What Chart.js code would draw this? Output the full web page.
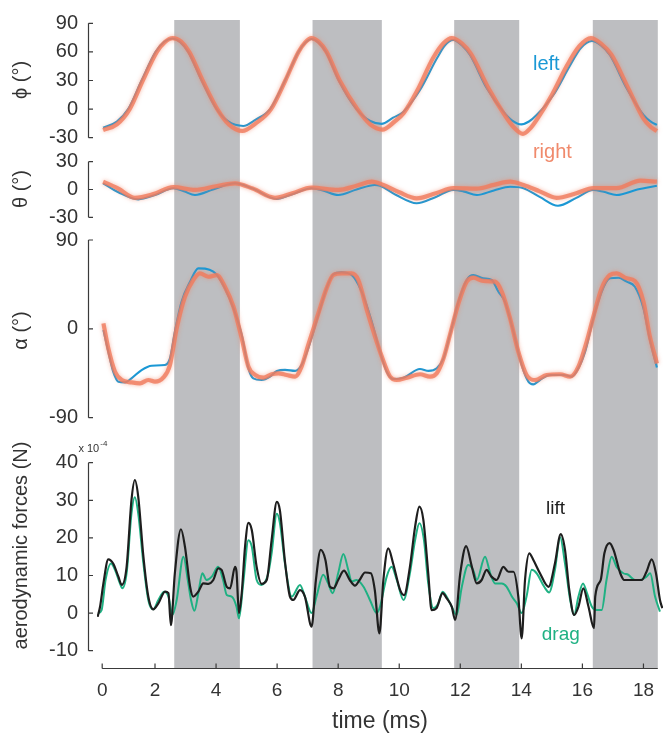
<!DOCTYPE html>
<html><head><meta charset="utf-8">
<script src="https://cdn.jsdelivr.net/npm/chart.js@4.4.0/dist/chart.umd.min.js"></script>
<style>html,body{margin:0;padding:0;background:#fff;}#wrap{width:665px;height:738px;position:relative;}</style>
</head><body><div id="wrap"><canvas id="c" width="665" height="738"></canvas></div>
<script>
const FONT = "'Liberation Sans', Arial, Helvetica, sans-serif";

// ---- time axis ----
const timeTicks = [0, 2, 4, 6, 8, 10, 12, 14, 16, 18];
const timeAxisStart = 0.27;   // where the drawn axis (and its "0" label) begins
const timeAxisEnd = 18.47;
const timeMin = 0.1, timeMax = 18.64;
// shaded half-strokes (ms)
const strokeStart = [2.63, 7.16, 11.8, 16.34];
const strokeEnd   = [4.78, 9.43, 13.93, 18.47];

// ---- y tick labels ----
const phiTicks = [-30, 0, 30, 60, 90];
const thetaTicks = [-30, 0, 30];
const alphaTicks = [-90, 0, 90];
const forceTicks = [-10, 0, 10, 20, 30, 40];

// ---- stroke angle phi (deg) [t, value] ----
const phiLeft = [[0.30,-19.5],[0.75,-13],[1.12,0],[1.56,30],[2.02,60],[2.3,70.5],[2.57,74],[2.82,70.5],[3.09,60],[3.53,30],[4.02,0],[4.4,-13],[4.89,-17.7],[5.3,-11],[5.77,0],[6.26,30],[6.7,60],[6.92,69.5],[7.13,73.5],[7.35,70],[7.6,60],[8.02,30],[8.6,0],[9.05,-12.5],[9.42,-15.5],[9.8,-9],[10.14,-2.7],[10.68,20],[11.23,53],[11.5,67],[11.77,72.5],[12.05,67],[12.32,56.7],[12.87,21.8],[13.41,-2.7],[13.7,-12],[14.0,-16],[14.25,-13],[14.5,-6.2],[15.05,14.8],[15.6,46],[15.95,64],[16.31,71.4],[16.6,67],[16.9,56.7],[17.45,21.8],[18.0,-6.2],[18.25,-13.5],[18.44,-16.5]];
const phiRight = [[0.30,-22],[0.75,-16],[1.17,0],[1.6,30],[2.06,60],[2.33,70.5],[2.58,74.5],[2.85,71],[3.12,60],[3.56,30],[4.04,0],[4.42,-16],[4.86,-23],[5.3,-15],[5.8,0],[6.27,30],[6.7,60],[6.92,70],[7.12,74.5],[7.35,71],[7.62,60],[8.05,30],[8.63,0],[9.05,-16],[9.45,-21.5],[9.85,-13],[10.15,-4],[10.6,20],[11.1,53],[11.45,69],[11.72,74.5],[12.05,69],[12.35,58],[12.92,22],[13.45,-6],[13.75,-19],[14.05,-26],[14.3,-20],[14.55,-9],[15.0,14.8],[15.5,46],[15.9,66],[16.28,74.5],[16.6,69],[16.95,57],[17.5,22],[18.0,-10],[18.25,-19],[18.44,-23]];

// ---- deviation angle theta (deg) ----
const thetaLeft = [[0.30,6.7],[0.8,-3],[1.45,-10.6],[2.0,-6],[2.6,1.4],[2.95,-2],[3.31,-5.9],[3.9,0],[4.62,6.7],[5.2,1],[5.98,-10.2],[6.5,-5],[7.13,1.4],[7.5,-1],[8.0,-5.9],[8.6,0],[9.2,4.9],[9.37,4],[9.9,-6],[10.57,-14.9],[11.2,-8],[11.77,-0.5],[12.1,-2],[12.54,-5.9],[13.1,-1],[13.63,3.0],[14.07,1.4],[14.6,-8],[15.2,-17.5],[15.8,-9],[16.36,-0.5],[16.7,-2.5],[17.12,-5.9],[17.8,0],[18.44,4.1]];
const thetaRight = [[0.30,8.4],[0.8,1],[1.34,-9],[1.95,-5],[2.6,2.6],[3.31,-0.5],[4.0,3.5],[4.62,6.7],[5.2,1],[5.93,-9],[6.5,-4],[7.13,2],[8.0,-0.5],[8.6,4],[9.1,8.4],[9.48,4.9],[10.0,-3],[10.57,-9.5],[11.2,-4],[11.77,1.4],[12.54,1],[13.1,5],[13.63,8.4],[14.07,4.9],[14.6,-2],[15.15,-9],[15.8,-4],[16.36,1.4],[17.12,1.4],[17.9,9.5],[18.44,8.4]];

// ---- angle of attack alpha (deg) ----
const alphaLeft = [[0.31,-1.2],[0.47,-23.1],[0.63,-43.4],[0.80,-53.5],[1.02,-54.2],[1.23,-50.1],[1.56,-41.7],[1.89,-37.3],[2.33,-36.6],[2.49,-29.9],[2.65,-2.9],[2.87,27.5],[3.15,47.8],[3.42,61.3],[3.64,61],[3.91,57.9],[4.07,52.8],[4.29,41],[4.57,20.8],[4.84,-6],[5.06,-40],[5.22,-50.1],[5.49,-51.8],[5.77,-48.4],[5.99,-42.6],[6.26,-41.6],[6.59,-42.6],[6.8,-36.6],[7.02,-19.7],[7.35,14],[7.62,41],[7.84,55.2],[8.11,57.2],[8.44,54.5],[8.77,37.6],[9.1,7.2],[9.37,-23.1],[9.59,-43.4],[9.81,-50.8],[10.14,-49.5],[10.68,-40.7],[10.96,-42.6],[11.23,-40],[11.45,-29.9],[11.66,-6.3],[11.94,27.5],[12.21,49.5],[12.43,54.5],[12.75,51.2],[13.03,49.5],[13.25,37.6],[13.46,27.5],[13.74,-2.9],[14.01,-36.6],[14.23,-53.5],[14.39,-56.2],[14.61,-51.8],[14.94,-46.7],[15.38,-46.7],[15.65,-48.4],[15.87,-40],[16.09,-23.1],[16.36,10.7],[16.63,37.6],[16.9,51.2],[17.18,51.8],[17.45,47.8],[17.72,42.7],[18.0,20.8],[18.2,-9.5],[18.44,-39.2]];
const alphaRight = [[0.31,5.6],[0.47,-19.7],[0.69,-43.4],[0.91,-51.8],[1.23,-54.2],[1.51,-55.2],[1.78,-51.8],[2.0,-53.5],[2.27,-49.5],[2.49,-36.6],[2.71,0.5],[2.98,32.5],[3.25,49.5],[3.47,56.2],[3.75,52.8],[4.02,54.5],[4.29,42.7],[4.57,22.4],[4.84,-9.5],[5.06,-38.3],[5.28,-46.7],[5.55,-49.5],[5.82,-46],[6.04,-45],[6.31,-46.7],[6.59,-48.4],[6.8,-38.3],[7.02,-16.3],[7.35,15.6],[7.62,41],[7.84,54.5],[8.11,56.2],[8.44,56.2],[8.66,49.5],[8.95,18],[9.21,-8],[9.41,-26.5],[9.7,-48.4],[9.92,-51.8],[10.25,-49.5],[10.68,-46],[11.01,-48.4],[11.23,-45],[11.45,-29.9],[11.66,-6.3],[11.94,25.8],[12.21,47.8],[12.43,51.8],[12.75,48.5],[13.14,47.8],[13.36,37.6],[13.63,10.7],[13.9,-23.1],[14.17,-46.7],[14.45,-51.8],[14.83,-46.7],[15.27,-46],[15.6,-48.4],[15.87,-38.3],[16.14,-13],[16.36,12.4],[16.63,41],[16.9,54.5],[17.12,56.2],[17.45,51.2],[17.72,48.5],[18.0,27.5],[18.2,-6.3],[18.44,-35]];

// ---- aerodynamic forces (x1e-4 N) ----
const lift = [[0.12,-1],[0.2,1.7],[0.31,7.9],[0.47,14.3],[0.63,13.2],[0.8,9.7],[0.91,7.5],[1.07,12.3],[1.23,30.1],[1.34,35.4],[1.45,31],[1.62,15],[1.78,4.4],[1.94,1],[2.11,2.6],[2.33,5.7],[2.44,5.3],[2.52,-3.2],[2.65,10.6],[2.85,22.3],[2.98,17.7],[3.15,7],[3.25,4.4],[3.42,5.7],[3.58,7.9],[3.75,7.8],[3.91,8.8],[4.07,11.9],[4.18,11.5],[4.35,7],[4.46,6.6],[4.62,12.3],[4.67,11],[4.75,0],[4.84,5.3],[4.95,17.7],[5.06,24],[5.17,22.1],[5.33,12.3],[5.49,7.8],[5.66,8.8],[5.82,19.4],[5.99,29.6],[6.09,27.4],[6.26,13.5],[6.42,4.4],[6.53,3.5],[6.75,6.1],[6.91,4.4],[7.13,-3.6],[7.27,8.8],[7.43,16.8],[7.58,14.2],[7.73,7],[7.85,6.6],[8.0,8.8],[8.19,11.3],[8.38,8.8],[8.55,7.3],[8.7,8.8],[8.88,10.8],[9.07,10.6],[9.2,6.1],[9.35,-5.4],[9.48,8.8],[9.64,17.2],[9.8,13.2],[10.03,6.1],[10.16,4.8],[10.35,12.3],[10.52,23],[10.66,28.3],[10.79,24.8],[10.95,10.6],[11.06,0.8],[11.22,1.3],[11.42,5.3],[11.55,4],[11.72,1.7],[11.83,-1.8],[12.0,10.6],[12.19,17.8],[12.38,12.3],[12.54,7.9],[12.7,8.8],[12.86,11.5],[13.02,9.7],[13.19,8.8],[13.41,12.3],[13.58,11],[13.74,11],[13.9,4.4],[14.01,-6.7],[14.12,8.8],[14.26,15.9],[14.39,14.2],[14.61,10.6],[14.89,7],[15.1,13.2],[15.29,21],[15.43,16.8],[15.57,6.1],[15.73,-0.5],[15.87,1.7],[16.03,6.6],[16.2,1.7],[16.38,-4],[16.42,4.4],[16.6,8.8],[16.72,15.9],[16.89,18.6],[17.02,16.8],[17.24,10.6],[17.37,8.8],[17.67,8.8],[17.94,8.8],[18.1,11],[18.27,14.3],[18.41,10.6],[18.54,3.5],[18.62,1.3]];
const drag = [[0.14,0],[0.25,0.8],[0.38,8.8],[0.56,13.2],[0.69,11.5],[0.85,7.9],[0.93,6.6],[1.07,10.6],[1.23,26.5],[1.34,30.8],[1.45,26.5],[1.62,13.2],[1.78,3.5],[1.94,1],[2.11,3.5],[2.3,5.7],[2.44,4.4],[2.57,-0.5],[2.71,3.5],[2.93,15],[3.09,7.9],[3.18,3.5],[3.29,0.6],[3.42,5.3],[3.55,10.6],[3.69,8.8],[3.86,9.7],[4.07,12.3],[4.23,8.8],[4.35,4.8],[4.51,4.4],[4.67,1.7],[4.75,-1.4],[4.89,7.9],[5.06,19.4],[5.17,17.7],[5.33,8.8],[5.49,7.5],[5.71,10.6],[5.82,15.9],[5.99,26.4],[6.09,24],[6.26,13],[6.48,4.4],[6.75,7.5],[6.91,4.4],[7.13,0],[7.29,4.4],[7.51,10.2],[7.67,7.9],[7.82,5.3],[8.0,10.6],[8.17,15.7],[8.33,11.5],[8.44,8.4],[8.6,8.8],[8.83,7],[9.04,3.5],[9.26,0],[9.37,1.7],[9.59,9.7],[9.75,12.3],[9.92,8.8],[10.14,3.5],[10.35,10.6],[10.52,19.4],[10.66,23.9],[10.81,19.4],[10.95,7.9],[11.12,1.3],[11.28,2.6],[11.42,5.7],[11.55,4.4],[11.72,1.7],[11.88,-0.5],[12.05,7],[12.26,12.8],[12.42,11.5],[12.54,8.8],[12.81,15],[12.98,10.6],[13.14,7.9],[13.36,7.9],[13.52,7],[13.69,4.4],[13.85,2.6],[14.01,0],[14.17,4.4],[14.34,11.5],[14.5,10.6],[14.75,7],[14.91,5.5],[15.1,11.5],[15.27,20.2],[15.43,13.2],[15.6,3.5],[15.73,-0.5],[15.87,4.4],[16.02,7.9],[16.15,5.3],[16.31,1.7],[16.47,0.8],[16.63,0.8],[16.79,8.8],[16.96,15],[17.12,12.3],[17.34,10.6],[17.5,10.2],[17.72,8.8],[17.88,8.8],[18.1,9.7],[18.22,10.6],[18.38,4.4],[18.54,0.4]];

const BLUE = '#1a98d5';
const SALMON = 'rgba(240,122,92,0.8)';
const SALMON_TXT = '#f08a6c';
const BLACK = '#1e1e1e';
const GREEN = '#1fb183';
const AXIS = '#3a3a3a';
const BAND = '#bdbec1';

function yScale(min, max, ticks, weight, stackWeight, title) {
  return {
    type: 'linear', position: 'left', stack: 'panels', stackWeight, weight, min, max, bounds: 'data',
    grid: {display: false, drawTicks: false}, border: {display: false},
    ticks: {font: {family: FONT, size: 20}, color: '#333', padding: 19, autoSkip: false},
    afterBuildTicks: s => { s.ticks = ticks.map(v => ({value: v})); },
    afterFit: s => { s.width = 97; s.paddingTop = 0; s.paddingBottom = 0; },
    title: {display: true, text: title, font: {family: FONT, size: 20}, color: '#333', padding: {top: 9, bottom: 0}}
  };
}

const ds = (data, axis, color, width, order, soft) => ({
  data, yAxisID: axis, borderColor: color, borderWidth: width, pointRadius: 0,
  cubicInterpolationMode: 'monotone', fill: false, order, soft: !!soft
});

const bandsPlugin = {
  id: 'bands',
  beforeDatasetsDraw(chart) {
    const {ctx, chartArea, scales: {x}} = chart;
    ctx.save();
    ctx.fillStyle = BAND;
    for (let i = 0; i < strokeStart.length; i++) {
      const a = x.getPixelForValue(strokeStart[i]), b = x.getPixelForValue(strokeEnd[i]);
      ctx.fillRect(a, chartArea.top, b - a, chartArea.bottom - chartArea.top);
    }
    ctx.restore();
  }
};

// soft halo on the right-wing traces
const softPlugin = {
  id: 'soft',
  beforeDatasetDraw(chart, args) {
    if (!chart.data.datasets[args.index].soft) return;
    chart.ctx.save();
    chart.ctx.shadowColor = 'rgba(240,130,100,0.7)';
    chart.ctx.shadowBlur = 4;
  },
  afterDatasetDraw(chart, args) {
    if (!chart.data.datasets[args.index].soft) return;
    chart.ctx.restore();
  }
};

const axesPlugin = {
  id: 'axes',
  afterDraw(chart) {
    const {ctx, chartArea, scales} = chart;
    ctx.save();
    ctx.strokeStyle = AXIS; ctx.lineWidth = 1.2;
    const ax = chartArea.left - 8.5;
    [['phi', phiTicks], ['theta', thetaTicks], ['alpha', alphaTicks], ['force', forceTicks]].forEach(([id, tk]) => {
      const s = scales[id];
      const top = s.getPixelForValue(tk[tk.length - 1]), bot = s.getPixelForValue(tk[0]);
      ctx.beginPath(); ctx.moveTo(ax, top); ctx.lineTo(ax, bot);
      tk.forEach(v => { const p = s.getPixelForValue(v); ctx.moveTo(ax, p); ctx.lineTo(ax + 4.5, p); });
      ctx.stroke();
    });
    const x = scales.x, yb = chartArea.bottom + 0.5;
    ctx.beginPath();
    ctx.moveTo(x.getPixelForValue(timeAxisStart), yb); ctx.lineTo(x.getPixelForValue(timeAxisEnd), yb);
    x.ticks.forEach(t => { const p = x.getPixelForValue(t.value); ctx.moveTo(p, yb); ctx.lineTo(p, yb - 5); });
    ctx.stroke();

    // annotations
    const put = (txt, t, axis, v, color, size) => {
      ctx.fillStyle = color; ctx.font = size + 'px ' + FONT;
      ctx.textAlign = 'left'; ctx.textBaseline = 'alphabetic';
      ctx.fillText(txt, x.getPixelForValue(t), scales[axis].getPixelForValue(v));
    };
    put('left', 14.38, 'phi', 41, BLUE, 20);
    put('right', 14.38, 'phi', -50.8, SALMON_TXT, 20);
    put('lift', 14.81, 'force', 26.4, BLACK, 19);
    put('drag', 14.67, 'force', -7.2, GREEN, 19);
    put('x 10', -0.51, 'force', 42.85, '#333', 11);
    put('-4', 0.21, 'force', 44.4, '#333', 8);
    ctx.restore();
  }
};

new Chart(document.getElementById('c'), {
  type: 'line',
  data: {
    datasets: [
      ds(phiLeft, 'phi', BLUE, 2.1, 2),
      ds(phiRight, 'phi', SALMON, 4.2, 1, true),
      ds(thetaLeft, 'theta', BLUE, 2.1, 2),
      ds(thetaRight, 'theta', SALMON, 4.2, 1, true),
      ds(alphaLeft, 'alpha', BLUE, 2.1, 2),
      ds(alphaRight, 'alpha', SALMON, 4.2, 1, true),
      ds(drag, 'force', GREEN, 2, 2),
      ds(lift, 'force', BLACK, 2.2, 1)
    ]
  },
  options: {
    responsive: false, animation: false, devicePixelRatio: 1,
    layout: {padding: {top: 20, right: 2, bottom: 0, left: 0}},
    plugins: {legend: {display: false}, tooltip: {enabled: false}},
    scales: {
      x: {
        type: 'linear', position: 'bottom', min: timeMin, max: timeMax, bounds: 'data',
        grid: {display: false, drawTicks: false}, border: {display: false},
        ticks: {font: {family: FONT, size: 19}, color: '#333', padding: 11, maxRotation: 0, autoSkip: false,
                callback: (v, i) => String(timeTicks[i])},
        afterBuildTicks: s => { s.ticks = timeTicks.map((v, i) => ({value: i === 0 ? timeAxisStart : v})); },
        afterFit: s => { s.height = 70; s.paddingLeft = 0; s.paddingRight = 0; },
        title: {display: true, text: 'time (ms)', font: {family: FONT, size: 23}, color: '#333', padding: {top: 0, bottom: 3}}
      },
      phi: yScale(-32.42, 93.46, phiTicks, 4, 120, 'ϕ (°)'),
      theta: yScale(-52.33, 53.42, thetaTicks, 3, 98, 'θ (°)'),
      alpha: yScale(-95.37, 92.03, alphaTicks, 2, 185, 'α (°)'),
      force: yScale(-14.6, 50.56, forceTicks, 1, 245, 'aerodynamic forces (N)')
    }
  },
  plugins: [bandsPlugin, softPlugin, axesPlugin]
});
</script></body></html>
